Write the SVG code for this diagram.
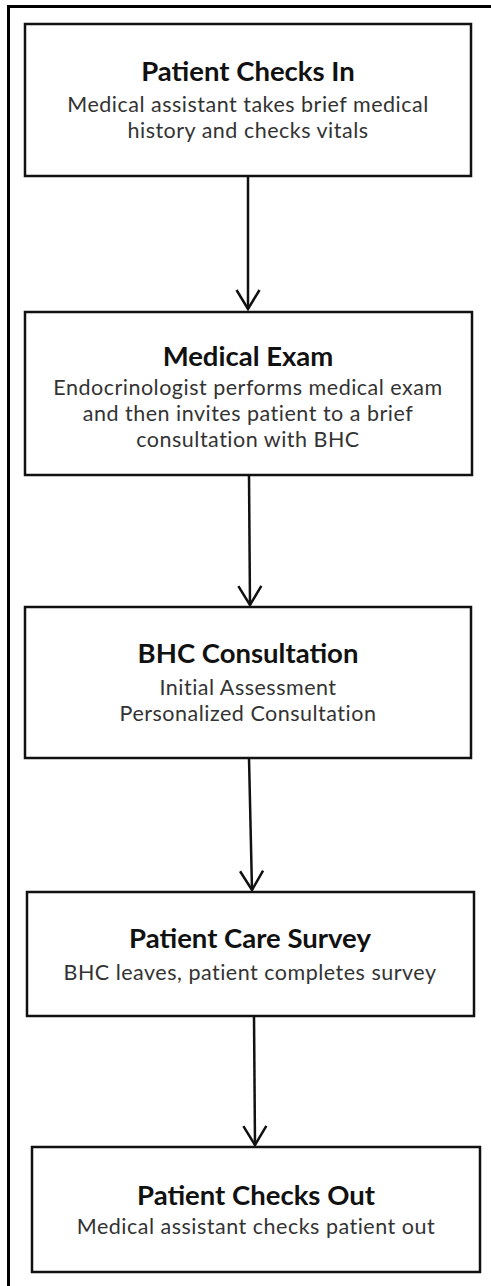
<svg xmlns="http://www.w3.org/2000/svg" width="491" height="1286" viewBox="0 0 491 1286">
<style>
.box{fill:#fff;stroke:#111;stroke-width:2.5}
.t{font-family:Lato,"Open Sans","Liberation Sans",sans-serif;font-weight:bold;font-size:27.5px;fill:#111;text-anchor:middle}
.s{font-family:Lato,"Open Sans","Liberation Sans",sans-serif;font-size:21.5px;letter-spacing:0.5px;fill:#333;text-anchor:middle}
.c{stroke:#111;stroke-width:2.5;fill:none}
</style>
<defs>
<marker id="arr" viewBox="0 0 22 26" refX="20" refY="13" markerWidth="22" markerHeight="26" markerUnits="userSpaceOnUse" orient="auto">
<path d="M1,1.5 L20,13 L1,24.5" fill="none" stroke="#111" stroke-width="2.5"/>
</marker>
</defs>
<rect width="491" height="1286" fill="#fff"/>
<g id="frame"><path d="M491,6.5 H8.5 V1286" fill="none" stroke="#000" stroke-width="3"/></g>
<g id="connectors">
<path class="c" d="M248,176 L248,309" marker-end="url(#arr)"/>
<path class="c" d="M249,475 L250,605" marker-end="url(#arr)"/>
<path class="c" d="M249,758 L252,890" marker-end="url(#arr)"/>
<path class="c" d="M254,1016 L255,1145" marker-end="url(#arr)"/>
</g>
<g id="n1">
<rect class="box" x="25" y="24" width="446" height="152"/>
<text class="t" x="248" y="81">Patient Checks In</text>
<text class="s" x="248" y="112">Medical assistant takes brief medical</text>
<text class="s" x="248" y="138">history and checks vitals</text>
</g>
<g id="n2">
<rect class="box" x="25" y="312" width="447" height="163"/>
<text class="t" x="248" y="366">Medical Exam</text>
<text class="s" x="248" y="395">Endocrinologist performs medical exam</text>
<text class="s" x="248" y="421">and then invites patient to a brief</text>
<text class="s" x="248" y="447">consultation with BHC</text>
</g>
<g id="n3">
<rect class="box" x="25" y="607" width="446" height="151"/>
<text class="t" x="248" y="663">BHC Consultation</text>
<text class="s" x="248" y="695">Initial Assessment</text>
<text class="s" x="248" y="721">Personalized Consultation</text>
</g>
<g id="n4">
<rect class="box" x="27" y="892" width="447" height="124"/>
<text class="t" x="250" y="948">Patient Care Survey</text>
<text class="s" x="250" y="980">BHC leaves, patient completes survey</text>
</g>
<g id="n5">
<rect class="box" x="32" y="1147" width="448" height="125"/>
<text class="t" x="256" y="1205">Patient Checks Out</text>
<text class="s" x="256" y="1234">Medical assistant checks patient out</text>
</g>
</svg>
